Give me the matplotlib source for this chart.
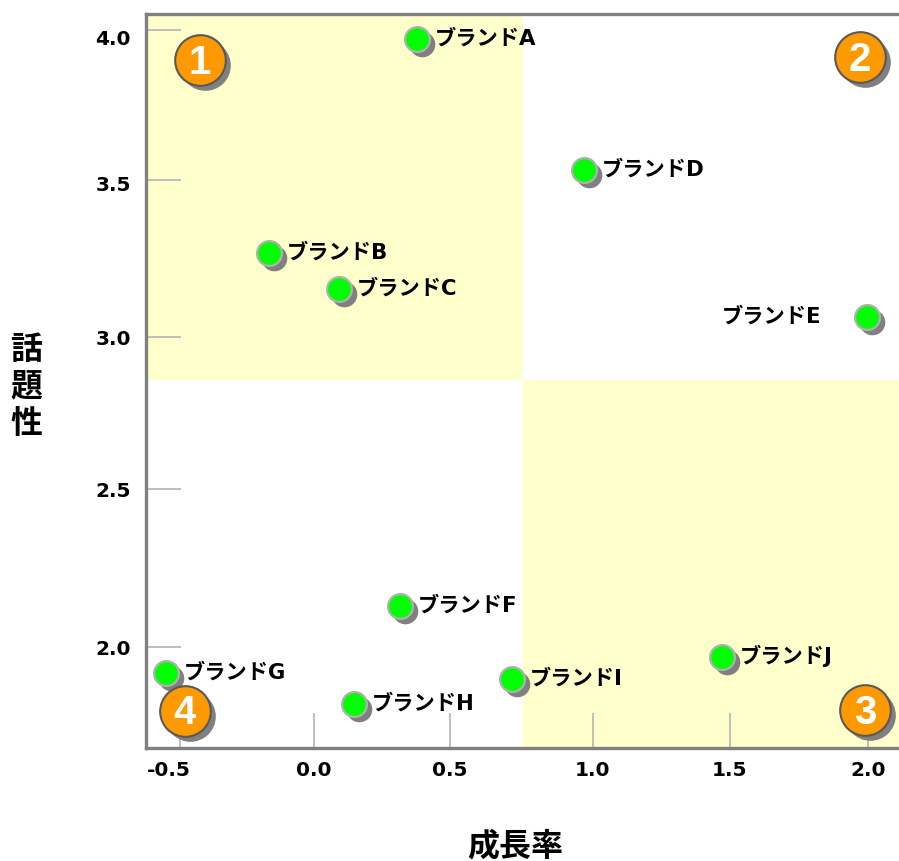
import matplotlib
matplotlib.use("Agg")
import matplotlib.pyplot as plt
from matplotlib.patches import Rectangle
from matplotlib.transforms import ScaledTranslation

plt.rcParams['font.family'] = ['DejaVu Sans', 'Noto Sans CJK JP']

brands = ["ブランドA", "ブランドB", "ブランドC", "ブランドD", "ブランドE",
          "ブランドF", "ブランドG", "ブランドH", "ブランドI", "ブランドJ"]
growth = [0.361, -0.177, 0.078, 0.968, 1.996, 0.299, -0.551, 0.132, 0.706, 1.469]
buzz = [3.971, 3.277, 3.160, 3.546, 3.070, 2.133, 1.916, 1.815, 1.896, 1.968]

badge_nums = ["1", "2", "3", "4"]
badge_x = [-0.427, 1.971, 1.989, -0.482]
badge_y = [3.903, 3.912, 1.796, 1.793]

# tick marks in the original are not evenly spaced
xtick_pos = [-0.5, -0.013, 0.482, 1.0, 1.498, 2.0]
xtick_labels = ["-0.5", "0.0", "0.5", "1.0", "1.5", "2.0"]
ytick_pos = [2.0, 2.512, 3.004, 3.513, 4.0]
ytick_labels = ["2.0", "2.5", "3.0", "3.5", "4.0"]

x_split = 0.746
y_split = 2.865
xlim = (-0.6235, 2.1126)
ylim = (1.6726, 4.052)

fig = plt.figure(figsize=(8.99, 8.61), dpi=100)
ax = fig.add_axes([146 / 899, 1 - 748 / 861, (899 - 146) / 899, (748 - 14) / 861])
ax.set_xlim(xlim)
ax.set_ylim(ylim)

ax.add_patch(Rectangle((xlim[0], y_split), x_split - xlim[0], ylim[1] - y_split,
                       fc="#FFFFCC", ec="none", zorder=0))
ax.add_patch(Rectangle((x_split, ylim[0]), xlim[1] - x_split, y_split - ylim[0],
                       fc="#FFFFCC", ec="none", zorder=0))

for s in ["left", "bottom", "top"]:
    ax.spines[s].set_color("#808080")
    ax.spines[s].set_linewidth(2.4)
ax.spines["right"].set_visible(False)

ax.set_xticks(xtick_pos, xtick_labels)
ax.set_yticks(ytick_pos, ytick_labels)
ax.tick_params(axis="both", direction="in", length=25, width=1.2, color="#B4B4B4",
               labelsize=14.5)
ax.tick_params(axis="x", pad=9)
ax.tick_params(axis="y", pad=11)
for lab in ax.get_xticklabels() + ax.get_yticklabels():
    lab.set_fontweight("bold")

# the end labels sit off their ticks in the original
xlabs = ax.get_xticklabels()
ylabs = ax.get_yticklabels()
xlabs[0].set_transform(xlabs[0].get_transform() + ScaledTranslation(-11 / 100, 0, fig.dpi_scale_trans))
ylabs[-1].set_transform(ylabs[-1].get_transform() + ScaledTranslation(0, -7 / 100, fig.dpi_scale_trans))
ylabs[-2].set_transform(ylabs[-2].get_transform() + ScaledTranslation(0, -3 / 100, fig.dpi_scale_trans))

# drop shadows are the same marks shifted down and right
shadow = ax.transData + ScaledTranslation(5 / 100, -5 / 100, fig.dpi_scale_trans)
ax.scatter(growth, buzz, s=340, c="#808080", linewidths=0, transform=shadow, zorder=2)
ax.scatter(growth, buzz, s=320, c="#00FF00", edgecolors="#B0B0B0", linewidths=1.6, zorder=3)

for i, name in enumerate(brands):
    if name == "ブランドE":
        ax.annotate(name, (growth[i], buzz[i]), xytext=(-33, 0), textcoords="offset points",
                    ha="right", va="center", fontsize=15.3, fontweight="bold", zorder=4)
    else:
        ax.annotate(name, (growth[i], buzz[i]), xytext=(13, 0.5), textcoords="offset points",
                    ha="left", va="center", fontsize=15.3, fontweight="bold", zorder=4)

ax.scatter(badge_x, badge_y, s=1330, c="#808080", linewidths=0, transform=shadow, zorder=5)
ax.scatter(badge_x, badge_y, s=1330, c="#FF9900", edgecolors="#595959", linewidths=1.5, zorder=6)
for num, bx, by in zip(badge_nums, badge_x, badge_y):
    ax.annotate(num, (bx, by), xytext=(0, 1), textcoords="offset points", color="white",
                fontsize=29, fontweight="bold", family="Liberation Sans",
                ha="center", va="center_baseline", zorder=7)

fig.text(515 / 899, 1 - 847 / 861, "成長率", fontsize=23, fontweight="bold",
         ha="center", va="center")
fig.text(26.5 / 899, 1 - 387 / 861, "話\n題\n性", fontsize=23, fontweight="bold",
         ha="center", va="center", linespacing=1.25)

fig.savefig("out.png", dpi=100)
